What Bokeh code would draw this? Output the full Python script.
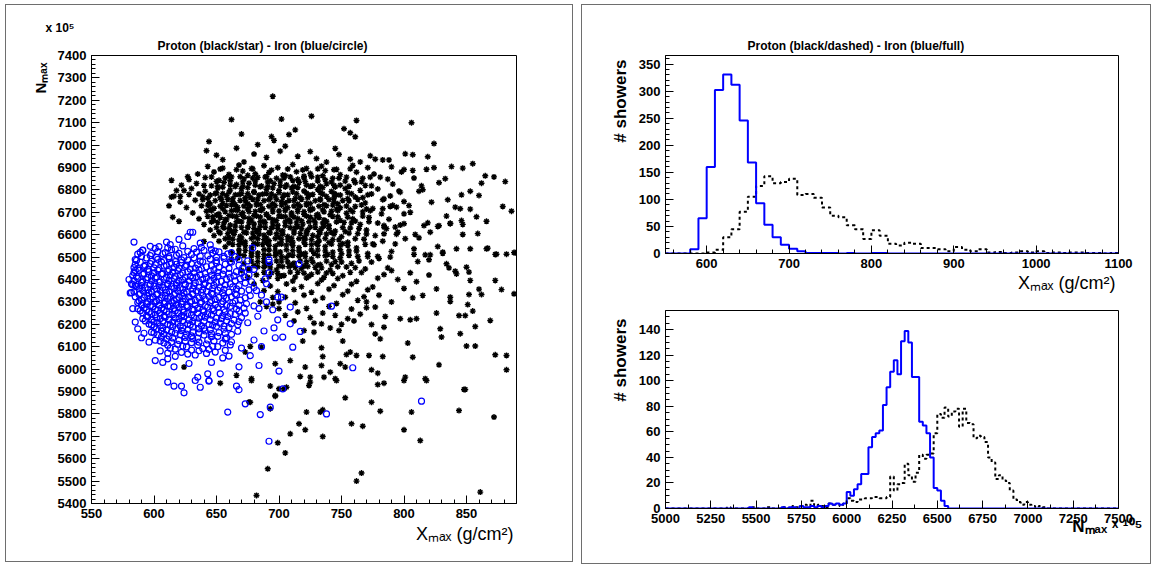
from bokeh.plotting import figure
from bokeh.models import Range1d, FixedTicker, Title
from bokeh.layouts import row, column
from bokeh.embed import file_html
from bokeh.resources import INLINE

# ---------------- data ----------------
# Xmax histogram: 10 g/cm2 bins from 550 to 1100
xmax_bin_lo = list(range(550, 1100, 10))
xmax_last_edge = 1100
iron_xmax_counts = [0, 0, 0, 8, 65, 160, 302, 331, 312, 246,
                    168, 93, 53, 30, 16, 9, 4, 1, 1, 1,
                    1, 0, 1, 0, 0, 1, 1, 0, 0, 0,
                    0, 0, 0, 0, 0, 0, 0, 0, 0, 0,
                    0, 0, 0, 0, 0, 0, 0, 0, 0, 0,
                    0, 0, 0, 0, 0]
proton_xmax_counts = [0, 0, 0, 0, 0, 2, 7, 30, 45, 77,
                      105, 125, 143, 130, 132, 138, 108, 110, 103, 85,
                      70, 67, 52, 45, 27, 43, 33, 18, 15, 20,
                      18, 10, 10, 8, 4, 12, 7, 4, 8, 2,
                      3, 1, 2, 4, 2, 4, 1, 2, 1, 2,
                      2, 1, 1, 0, 1]

# Nmax histogram (x 10^5): bins of 20 from 5000 to 7500
nmax_bin_lo = list(range(5000, 7500, 20))
nmax_last_edge = 7500
iron_nmax_counts = [0, 0, 0, 0, 0, 0, 0, 0, 0, 0,
                    0, 0, 0, 0, 0, 0, 0, 0, 0, 0,
                    0, 0, 0, 1, 0, 0, 0, 0, 0, 0,
                    0, 0, 1, 0, 1, 1, 0, 2, 1, 1,
                    2, 1, 2, 1, 2, 4, 3, 4, 3, 4,
                    13, 10, 15, 19, 27, 27, 48, 56, 59, 61,
                    81, 95, 107, 116, 105, 131, 139, 130, 103, 103,
                    68, 65, 59, 40, 16, 14, 6, 2, 0, 0,
                    0, 0, 0, 0, 0, 0, 0, 0, 0, 0,
                    0, 0, 0, 0, 0, 0, 0, 0, 0, 0,
                    0, 0, 0, 0, 0, 0, 0, 0, 0, 0,
                    0, 0, 0, 0, 0, 0, 0, 0, 0, 0,
                    0, 0, 0, 0, 0]
proton_nmax_counts = [0, 0, 0, 0, 0, 0, 0, 0, 0, 0,
                      0, 0, 0, 0, 0, 0, 0, 1, 0, 0,
                      0, 0, 0, 0, 1, 0, 0, 0, 1, 0,
                      0, 0, 1, 0, 0, 2, 1, 2, 3, 2,
                      6, 2, 3, 2, 1, 4, 3, 3, 2, 4,
                      8, 6, 5, 7, 7, 8, 8, 9, 9, 8,
                      8, 9, 25, 14, 19, 20, 35, 26, 21, 28,
                      42, 39, 42, 43, 59, 74, 71, 79, 72, 76,
                      78, 64, 78, 67, 66, 55, 57, 56, 52, 40,
                      36, 23, 26, 22, 20, 14, 7, 5, 3, 5,
                      3, 2, 1, 2, 1, 0, 0, 0, 0, 0,
                      0, 0, 0, 0, 0, 0, 0, 0, 0, 0,
                      0, 0, 0, 0, 0]

# Scatter: (Xmax [g/cm2], Nmax [x 10^5])
proton_pts = [
    (695,7218),(662,7114),(702,7116),(726,7129),(762,7110),(806,7100),(670,7049),(694,7038),
    (696,7021),(708,7047),(713,7068),(752,7073),(757,7055),(761,7037),(644,7016),(642,6975),
    (666,6986),(705,6995),(701,6973),(725,6971),(824,7007),(801,6961),(807,6957),(819,6948),
    (773,6952),(738,6924),(757,6937),(777,6937),(783,6934),(788,6934),(838,6904),(855,6917),
    (847,6897),(865,6863),(872,6858),(881,6837),(886,6705),(879,6726),(800,6891),(807,6887),
    (818,6892),(824,6899),(833,6850),(828,6832),(846,6778),(853,6794),(860,6775),(862,6830),
    (835,6756),(841,6723),(845,6716),(853,6714),(834,6683),(837,6651),(846,6663),(858,6680),
    (866,6660),(847,6601),(859,6605),(842,6537),(867,6540),(874,6513),(882,6513),(888,6520),
    (827,6547),(831,6517),(821,6510),(828,6640),(816,6641),(821,6611),(809,6601),(812,6586),
    (819,6653),(797,6790),(804,6730),(812,6794),(814,6818),(794,6723),(800,6693),(789,6726),
    (784,6760),(783,6716),(784,6634),(784,6604),(795,6611),(801,6582),(808,6537),(808,6512),
    (779,6503),(789,6500),(793,6559),(775,6559),(614,6843),(614,6768),(612,6729),(615,6678),
    (621,6771),(627,6859),(620,6660),(624,6797),(680,6960),(690,6945),(715,6950),(730,6940),
    (748,6958),(765,6925),(655,6935),(672,6925),(745,6985),(683,7002),(650,6955),
    # dense core
    (643,6905),(655,6897),(668,6911),(679,6894),(688,6908),(699,6899),(711,6913),(722,6896),
    (734,6906),(746,6892),(759,6909),(771,6899),(790,6903),
    (635,6871),(648,6880),(660,6869),(671,6884),(681,6872),(692,6878),(703,6866),(714,6881),
    (725,6873),(737,6886),(749,6868),(762,6879),(776,6871),(798,6880),
    (628,6846),(641,6855),(652,6843),(662,6858),(672,6849),(683,6856),(693,6841),(704,6853),
    (715,6847),(726,6859),(737,6845),(748,6852),(760,6843),(773,6857),(787,6848),(808,6853),
    (622,6821),(634,6829),(646,6818),(656,6833),(666,6824),(676,6830),(686,6817),(696,6828),
    (706,6822),(716,6834),(727,6819),(738,6827),(749,6821),(761,6832),(774,6818),(791,6826),
    (618,6797),(630,6806),(641,6794),(651,6808),(661,6799),(670,6805),(680,6792),(690,6803),
    (700,6797),(710,6809),(720,6795),(731,6802),(742,6793),(753,6806),(765,6798),(779,6804),
    (796,6795),(815,6801),
    (616,6772),(628,6780),(639,6769),(649,6783),(658,6774),(668,6779),(677,6767),(687,6781),
    (697,6772),(707,6778),(717,6766),(727,6780),(738,6771),(749,6777),(761,6768),(774,6782),
    (789,6773),
    (621,6746),(633,6754),(644,6743),(654,6757),(663,6748),(673,6753),(682,6741),(692,6756),
    (702,6747),(712,6752),(722,6740),(733,6755),(744,6746),(756,6751),(769,6742),(783,6756),
    (800,6748),(822,6745),
    (626,6721),(638,6729),(648,6718),(658,6731),(667,6722),(677,6728),(687,6716),(697,6730),
    (707,6721),(717,6727),(727,6715),(738,6729),(749,6720),(761,6726),(775,6717),(791,6731),
    (631,6697),(642,6705),(652,6693),(662,6707),(671,6698),(681,6704),(690,6692),(700,6706),
    (710,6697),(720,6703),(731,6691),(742,6705),(754,6696),(767,6702),(782,6693),(805,6700),
    (636,6671),(647,6680),(657,6668),(666,6682),(676,6673),(685,6679),(695,6667),(705,6681),
    (715,6672),(725,6678),(736,6666),(747,6680),(759,6671),(772,6677),(788,6669),
    (640,6646),(651,6655),(661,6643),(670,6657),(680,6648),(689,6654),(699,6642),(709,6656),
    (719,6647),(729,6653),(740,6641),(752,6655),(765,6646),(779,6652),(797,6643),
    (645,6621),(656,6630),(665,6618),(675,6632),(684,6623),(694,6629),(703,6617),(713,6631),
    (723,6622),(734,6628),(745,6616),(757,6630),(770,6621),(786,6627),
    (648,6596),(659,6605),(669,6593),(679,6607),(688,6598),(698,6604),(707,6592),(717,6606),
    (727,6597),(738,6603),(750,6591),(763,6605),(777,6596),(794,6602),
    (652,6571),(663,6580),(673,6568),(683,6582),(692,6573),(702,6579),(711,6567),(721,6581),
    (732,6572),(743,6578),(755,6566),(768,6580),(783,6571),
    (657,6546),(668,6555),(678,6543),(687,6557),(697,6548),(706,6554),(716,6542),(726,6556),
    (737,6547),(749,6553),(762,6541),(776,6555),
    (662,6521),(673,6530),(683,6518),(692,6532),(701,6523),(711,6529),(721,6517),(731,6531),
    (743,6522),(756,6528),(771,6516),(790,6525),
    (667,6496),(678,6505),(688,6493),(697,6507),(706,6498),(716,6504),(726,6492),(737,6506),
    (749,6497),(763,6503),(780,6494),
    (672,6471),(683,6480),(693,6468),(702,6482),(712,6473),(722,6479),(733,6467),(745,6481),
    (758,6472),(774,6478),
    (676,6446),(688,6455),(698,6443),(708,6457),(718,6448),(729,6454),(741,6442),(754,6456),
    (769,6447),(787,6452),
    (682,6421),(694,6430),(704,6418),(715,6432),(726,6423),(738,6429),(751,6417),(766,6431),
    (784,6422),
    (687,6396),(699,6405),(711,6393),(722,6407),(734,6398),(747,6404),(762,6392),(779,6406),
    (693,6371),(706,6380),(718,6368),(731,6382),(744,6373),(758,6379),(775,6367),
    (699,6346),(712,6355),(726,6343),(740,6357),(755,6348),(771,6354),
    (705,6321),(720,6330),(735,6318),(751,6332),(768,6323),
    (713,6296),(729,6305),(746,6293),(763,6307),(722,6271),(740,6280),(758,6268),
    (655,6812),(665,6815),(675,6810),(685,6814),(695,6809),(705,6813),(715,6811),(725,6816),
    (735,6810),(745,6813),
    (650,6787),(660,6790),(670,6785),(680,6789),(690,6784),(700,6788),(711,6791),(722,6786),
    (733,6789),(744,6785),(755,6788),
    (645,6737),(655,6740),(665,6735),(675,6739),(685,6734),(695,6738),(705,6741),(715,6736),
    (725,6739),(736,6734),(747,6738),
    (650,6688),(660,6685),(670,6690),(680,6686),(690,6689),(700,6684),(710,6688),(720,6691),
    (730,6686),(741,6689),
    (655,6636),(665,6639),(675,6634),(685,6638),(695,6635),(705,6640),(715,6637),(725,6634),
    (736,6639),
    (660,6588),(670,6585),(680,6590),(690,6586),(700,6589),(710,6584),(720,6588),(731,6591),
    (660,6862),(675,6865),(690,6860),(705,6864),(720,6861),(735,6863),
    (650,6838),(661,6841),(671,6836),(681,6840),(691,6835),(701,6839),(711,6842),(721,6837),
    (731,6840),(742,6835),(753,6839),(766,6836),
    (643,6763),(653,6766),(663,6761),(673,6765),(683,6760),(693,6764),(703,6767),(713,6762),
    (723,6765),(733,6760),(744,6764),(755,6761),(767,6765),
    (645,6713),(655,6716),(665,6711),(675,6715),(685,6710),(695,6714),(705,6717),(715,6712),
    (725,6715),(735,6710),(746,6714),(757,6711),(770,6715),
    (648,6663),(658,6666),(668,6661),(678,6665),(688,6660),(698,6664),(708,6667),(718,6662),
    (728,6665),(738,6660),(749,6664),(761,6661),
    (652,6613),(662,6616),(672,6611),(682,6615),(692,6610),(702,6614),(712,6617),(722,6612),
    (732,6615),(742,6610),(753,6614),
    (660,6563),(670,6566),(680,6561),(690,6565),(700,6560),(710,6564),(720,6567),(730,6562),
    (740,6565),(751,6560),
    (668,6513),(678,6516),(688,6511),(698,6515),(708,6510),(718,6514),(728,6517),(739,6512),
    (750,6515),
    (680,6463),(690,6466),(700,6461),(710,6465),(720,6460),(731,6464),(742,6467),
    (692,6413),(702,6416),(713,6411),(724,6415),(736,6410),
    # third, offset layer of the core
    (653,6893),(666,6890),(678,6895),(694,6888),(707,6893),(719,6889),(731,6894),(744,6890),(757,6894),
    (646,6858),(657,6853),(669,6859),(679,6853),(689,6857),(698,6852),(709,6858),(720,6853),
    (731,6857),(743,6852),(754,6857),(767,6852),(781,6857),
    (640,6820),(651,6815),(661,6821),(671,6816),(681,6821),(691,6815),(701,6820),(712,6816),
    (722,6821),(733,6816),(744,6820),(756,6816),(769,6820),
    (636,6782),(645,6777),(655,6783),(665,6778),(675,6783),(684,6777),(694,6782),(704,6778),
    (714,6783),(724,6777),(735,6782),(746,6778),(758,6783),(771,6778),
    (639,6757),(649,6752),(659,6758),(669,6753),(679,6758),(688,6752),(698,6757),(708,6753),
    (718,6758),(729,6752),(740,6757),(751,6753),(763,6758),
    (643,6732),(653,6727),(662,6733),(672,6728),(682,6733),(692,6727),(702,6732),(712,6728),
    (722,6733),(732,6727),(743,6732),(754,6728),(766,6733),
    (646,6707),(657,6702),(667,6708),(676,6703),(686,6708),(695,6702),(705,6707),(715,6703),
    (725,6708),(736,6702),(747,6707),(759,6703),(773,6707),
    (643,6682),(653,6677),(663,6683),(672,6678),(682,6683),(692,6677),(702,6682),(712,6678),
    (722,6683),(732,6677),(743,6682),(755,6678),(767,6683),
    (646,6657),(656,6652),(666,6658),(676,6653),(685,6658),(695,6652),(705,6657),(714,6653),
    (724,6658),(735,6652),(746,6657),(758,6653),(772,6658),
    (650,6632),(660,6627),(670,6633),(680,6628),(689,6633),(699,6627),(709,6632),(718,6628),
    (729,6633),(740,6627),(751,6632),(764,6628),
    (653,6607),(664,6602),(674,6608),(684,6603),(693,6608),(703,6602),(712,6607),(722,6603),
    (733,6608),(744,6602),(756,6607),(770,6603),
    (657,6582),(668,6577),(678,6583),(688,6578),(697,6583),(707,6577),(716,6582),(726,6578),
    (737,6583),(748,6577),(761,6582),
    (663,6557),(673,6552),(683,6558),(692,6553),(702,6558),(711,6552),(721,6557),(731,6553),
    (742,6558),(755,6552),(769,6557),
    (668,6532),(678,6527),(688,6533),(697,6528),(706,6533),(716,6527),(726,6532),(737,6528),
    (749,6533),(762,6527),
    (672,6507),(683,6502),(692,6508),(702,6503),(711,6508),(721,6502),(731,6507),(743,6503),
    (756,6508),(771,6502),
    (678,6482),(688,6477),(698,6483),(707,6478),(717,6483),(727,6477),(738,6482),(750,6478),(764,6483),
    (683,6457),(693,6452),(703,6458),(713,6453),(723,6458),(734,6452),(747,6457),(761,6453),
    (688,6432),(699,6427),(709,6433),(720,6428),(731,6433),(743,6427),(757,6432),
    (640,6570),(662,6490),(670,6440),(675,6410),(680,6380),(688,6350),(695,6320),(685,6300),
    (700,6270),
    (705,6240),(715,6255),(725,6230),(735,6250),(745,6240),(755,6225),(765,6245),(712,6215),
    (728,6205),(750,6200),(760,6215),(695,6290),(770,6300),(780,6330),(790,6300),(800,6360),
    (795,6400),(805,6430),(790,6440),(810,6390),(820,6420),(700,6300),(690,6280),
    # lower / right sparse
    (784,6641),(793,6634),(800,6649),(827,6637),(837,6649),(847,6646),
    (889,6519),(873,6512),(866,6537),(853,6537),(831,6522),(817,6510),(820,6488),(811,6480),
    (834,6470),(836,6452),(841,6437),(842,6425),(850,6455),(852,6433),(853,6396),(873,6396),
    (860,6357),(878,6355),(888,6336),(852,6333),(862,6333),(837,6321),(837,6302),(826,6358),
    (815,6329),(807,6318),(851,6288),(855,6259),(844,6239),(849,6239),(826,6250),(810,6225),
    (805,6220),(797,6225),(869,6217),(829,6180),(830,6143),(845,6158),(850,6103),(857,6103),
    (857,6190),(873,6064),(882,6061),(882,5997),(828,6019),(817,5957),(801,5964),(807,6053),
    (803,6116),(849,5909),(844,5815),(872,5786),
    (772,6061),(774,5997),(779,5982),(774,5852),(781,5812),(784,5937),(779,5931),(783,6056),
    (781,6135),(784,6187),(785,6235),(777,6277),(770,6274),(774,6199),(777,6157),(762,6061),
    (754,6065),(749,6024),(753,6009),(745,5957),(741,5986),(736,5964),(734,6016),(725,5964),
    (717,5967),(735,6056),(757,6076),(751,6125),(748,6172),(741,6184),(734,6202),(734,6095),
    (728,6165),(720,6172),(719,6125),(721,6009),(709,6038),(704,5912),(697,6024),(693,5924),
    (697,5882),(693,5823),(677,5852),(678,5957),(686,6098),(677,6101),(673,6076),(666,5972),
    (653,5937),(624,6009),
    (678,5949),(700,5912),(706,5919),(697,5879),(724,5927),(725,5942),(746,5949),(753,5872),
    (800,5949),(818,5949),(848,5909),(806,5808),(800,5729),(813,5681),(722,5808),(733,5808),
    (735,5818),(716,5756),(721,5729),(735,5699),(758,5756),(767,5745),(709,5711),(699,5671),
    (705,5626),(691,5555),(766,5536),(762,5500),(682,5436),(861,5451),(676,5853),
]

iron_pts = [
    (597,6548),(611,6541),(623,6550),(638,6543),
    (591,6531),(603,6524),(614,6533),(627,6526),(640,6530),(652,6523),
    (587,6513),(597,6507),(607,6515),(618,6508),(630,6512),(643,6506),(659,6514),
    (585,6489),(594,6496),(603,6490),(612,6494),(622,6488),(632,6497),(645,6491),(656,6495),(668,6489),
    (589,6477),(597,6471),(606,6478),(614,6472),(622,6476),(630,6470),(639,6479),(650,6473),(662,6477),
    (584,6453),(592,6459),(600,6452),(608,6460),(616,6454),(625,6458),(633,6451),(642,6457),(652,6455),(671,6452),
    (588,6441),(596,6435),(603,6442),(611,6436),(619,6440),(627,6434),(636,6443),(645,6437),(656,6441),(666,6435),
    (583,6417),(591,6423),(598,6416),(606,6424),(613,6418),(621,6422),(629,6415),(637,6421),(646,6419),(655,6424),(664,6416),(676,6420),
    (587,6405),(594,6399),(601,6406),(608,6400),(616,6404),(623,6398),(631,6407),(639,6401),(648,6405),(658,6399),(669,6403),
    (582,6381),(590,6387),(597,6380),(604,6388),(611,6382),(618,6386),(625,6379),(633,6385),(641,6383),(650,6388),(661,6380),(673,6384),
    (586,6369),(593,6363),(600,6370),(607,6364),(614,6368),(621,6362),(628,6371),(636,6365),(644,6369),(653,6363),(663,6367),(680,6364),
    (584,6345),(591,6351),(598,6344),(605,6352),(612,6346),(619,6350),(626,6343),(634,6349),(642,6347),(651,6352),(660,6344),(670,6348),
    (588,6333),(595,6327),(602,6334),(609,6328),(616,6332),(623,6326),(631,6335),(639,6329),(647,6333),(656,6327),(666,6331),(677,6328),
    (590,6309),(597,6315),(604,6308),(611,6316),(618,6310),(625,6314),(633,6307),(641,6313),(649,6311),(658,6316),(669,6308),
    (587,6297),(594,6291),(601,6298),(608,6292),(615,6296),(622,6290),(629,6299),(637,6293),(645,6297),(654,6291),(663,6295),(674,6292),
    (592,6273),(599,6279),(606,6272),(613,6280),(620,6274),(627,6278),(635,6271),(643,6277),(651,6275),(661,6280),(672,6272),
    (589,6261),(596,6255),(603,6262),(610,6256),(617,6260),(624,6254),(632,6263),(640,6257),(648,6261),(657,6255),(668,6259),
    (594,6237),(601,6243),(608,6236),(615,6244),(622,6238),(630,6242),(638,6235),(646,6241),(655,6239),(665,6244),(683,6236),
    (591,6225),(598,6219),(605,6226),(612,6220),(620,6224),(628,6218),(636,6227),(645,6221),(654,6225),(664,6219),
    (596,6201),(603,6207),(611,6200),(619,6208),(627,6202),(635,6206),(644,6199),(653,6205),(662,6203),(675,6207),
    (600,6189),(607,6183),(615,6190),(623,6184),(631,6188),(640,6182),(650,6191),(660,6185),
    (598,6165),(606,6171),(614,6164),(622,6172),(631,6166),(641,6170),(652,6163),(667,6169),
    (603,6153),(612,6147),(621,6154),(630,6148),(640,6152),(651,6146),(662,6155),
    (601,6129),(610,6135),(620,6128),(631,6136),(643,6130),(657,6134),
    (608,6117),(619,6111),(630,6118),(642,6112),(655,6116),
    (613,6093),(626,6099),(639,6092),(651,6100),(670,6094),
    (605,6081),(622,6075),(636,6082),(649,6076),
    (617,6057),(633,6063),(660,6058),
    # second, interleaved layer of the dense core
    (601,6539),(617,6535),(632,6538),(646,6534),
    (589,6521),(598,6516),(609,6520),(620,6517),(634,6522),(647,6518),(662,6520),
    (590,6503),(602,6499),(612,6502),(624,6498),(637,6504),(650,6500),(665,6502),
    (586,6485),(598,6481),(608,6484),(617,6480),(627,6486),(637,6482),(650,6484),(661,6480),(675,6483),
    (585,6467),(593,6463),(601,6466),(610,6462),(618,6468),(626,6464),(635,6466),(646,6462),(657,6468),(668,6464),
    (587,6449),(595,6445),(604,6448),(612,6444),(620,6450),(629,6446),(638,6448),(648,6444),(660,6450),(676,6446),
    (584,6431),(592,6427),(600,6430),(607,6426),(615,6432),(623,6428),(632,6430),(641,6426),(651,6432),(660,6428),(670,6430),
    (586,6413),(595,6409),(602,6412),(610,6408),(617,6414),(625,6410),(634,6412),(642,6408),(651,6414),(661,6410),(672,6412),
    (584,6395),(591,6391),(598,6394),(605,6390),(612,6396),(620,6392),(628,6394),(636,6390),(645,6396),(654,6392),(665,6394),(678,6390),
    (583,6377),(590,6373),(597,6376),(604,6372),(611,6378),(618,6374),(625,6376),(632,6372),(640,6378),(648,6374),(657,6376),(668,6372),
    (588,6359),(595,6355),(602,6358),(609,6354),(616,6360),(623,6356),(631,6358),(639,6354),(647,6360),(656,6356),(666,6358),(676,6354),
    (582,6341),(589,6337),(596,6340),(603,6336),(610,6342),(617,6338),(624,6340),(631,6336),(638,6342),(646,6338),(655,6340),(665,6336),
    (585,6323),(592,6319),(599,6322),(606,6318),(613,6324),(620,6320),(628,6322),(636,6318),(644,6324),(652,6320),(662,6322),(673,6318),
    (588,6305),(595,6301),(602,6304),(609,6300),(616,6306),(623,6302),(630,6304),(638,6300),(646,6306),(655,6302),(665,6304),
    (590,6287),(597,6283),(604,6286),(611,6282),(618,6288),(626,6284),(633,6286),(641,6282),(649,6288),(658,6284),(668,6286),(680,6282),
    (587,6269),(594,6265),(601,6268),(608,6264),(616,6270),(623,6266),(631,6268),(639,6264),(647,6270),(656,6266),(666,6268),
    (591,6251),(598,6247),(605,6250),(612,6246),(619,6252),(627,6248),(635,6250),(643,6246),(652,6252),(661,6248),(673,6250),
    (595,6233),(602,6229),(609,6232),(617,6228),(624,6234),(632,6230),(641,6232),(650,6228),(659,6234),(670,6230),
    (593,6215),(600,6211),(607,6214),(615,6210),(623,6216),(631,6212),(640,6214),(649,6210),(658,6216),(668,6212),
    (598,6197),(605,6193),(613,6196),(621,6192),(629,6198),(638,6194),(647,6196),(656,6192),(667,6198),
    (602,6179),(610,6175),(618,6178),(627,6174),(636,6180),(645,6176),(656,6178),
    (600,6161),(608,6157),(617,6160),(626,6156),(636,6162),(646,6158),(657,6160),
    (606,6143),(615,6139),(625,6142),(635,6138),(646,6144),(658,6140),
    (605,6125),(614,6121),(625,6124),(636,6120),(648,6126),(662,6122),
    (611,6107),(623,6103),(635,6106),(647,6102),(661,6108),
    (617,6089),(630,6085),(644,6088),(657,6084),
    (611,6071),(627,6067),(642,6070),
    # outskirts
    (584,6567),(581,6340),(585,6373),(591,6530),(601,6038),(611,6046),(611,5942),(616,5924),
    (622,5924),(624,5894),(633,5949),(635,5964),(637,5919),(643,5979),(644,5949),(653,5979),
    (666,5924),(668,5908),(673,5845),(659,5808),(685,5797),(693,5830),(703,5912),(684,6016),
    (700,5991),(711,6098),(717,6168),(709,6202),(703,6143),(697,6140),(696,6184),(699,6220),
    (695,6265),(709,6277),(716,6470),(742,6281),(759,6006),(814,5857),(738,5800),(692,6477),
    (679,6541),(656,6503),(645,6555),(629,6611),(620,6579),(680,6445),(689,6403),(699,6321),
    (702,6321),(690,6381),(604,6547),(610,6567),(613,6556),(627,6592),(631,6611),(637,6562),
    (649,6527),(692,6489),(692,5678),(644,5946),(616,6010),(607,6030),(628,6025),(646,6030),
    (655,6050),(668,6010),(677,6060),(686,6100),(680,6130),(688,6170),(684,6270),(690,6300),
    (686,6330),(682,6350),(692,6430),(587,6180),(592,6160),(596,6120),(590,6140),(585,6210),
    (583,6270),(580,6400),(585,6440),
]

proton_x = [p[0] for p in proton_pts]
proton_y = [p[1] for p in proton_pts]
iron_x = [p[0] for p in iron_pts]
iron_y = [p[1] for p in iron_pts]

FONT = "Liberation Sans"
BLUE = "#0000ff"
PANEL_BORDER = "1px solid #6e6e6e"


def style(p, xt, xm, yt, ym):
    p.xgrid.visible = False
    p.ygrid.visible = False
    p.outline_line_color = "black"
    p.outline_line_width = 1
    p.outline_line_alpha = 1
    p.background_fill_color = "white"
    p.border_fill_color = "white"
    p.xaxis[0].ticker = FixedTicker(ticks=xt, minor_ticks=xm)
    p.yaxis[0].ticker = FixedTicker(ticks=yt, minor_ticks=ym)
    for ax in (p.xaxis[0], p.yaxis[0]):
        ax.major_tick_in = 8
        ax.major_tick_out = 0
        ax.minor_tick_in = 4
        ax.minor_tick_out = 0
        ax.axis_line_color = "black"
        ax.major_tick_line_color = "black"
        ax.minor_tick_line_color = "black"
        ax.major_label_text_font = FONT
        ax.major_label_text_font_style = "bold"
        ax.major_label_text_font_size = "13px"
        ax.major_label_text_color = "black"
        ax.major_label_standoff = 5


def add_title(p, side, text, size, bold, align, offset, standoff):
    p.add_layout(Title(text=text, align=align, offset=offset, standoff=standoff,
                       text_font=FONT, text_font_size=f"{size}px",
                       text_font_style="bold" if bold else "normal",
                       text_color="black"), side)


# ---------------- left: scatter ----------------
p1 = figure(width=568, height=558, output_backend="svg", toolbar_location=None, title=None,
            x_range=Range1d(550, 890), y_range=Range1d(5400, 7400),
            min_border_left=85, min_border_right=58, min_border_top=50, min_border_bottom=60,
            styles={"border": PANEL_BORDER})
style(p1, list(range(550, 851, 50)), list(range(550, 891, 10)),
      list(range(5400, 7401, 100)), list(range(5400, 7401, 20)))
p1.scatter(proton_x, proton_y, marker="asterisk", size=6, line_color="black", line_width=1.4)
p1.scatter(iron_x, iron_y, marker="circle", size=6, fill_color=None, line_color=BLUE, line_width=1.2)

add_title(p1, "above", "Proton (black/star) - Iron (blue/circle)", 12, True, "left", 66, 5)
add_title(p1, "above", "x 10\u2075", 12, True, "left", -46, 0)
add_title(p1, "left", "N\u2098\u2090\u2093", 15, True, "right", 7, 12)
add_title(p1, "below", "X\u2098\u2090\u2093 (g/cm\u00b2)", 18, False, "right", 3, 3)

# ---------------- right top: Xmax histogram ----------------
p2 = figure(width=568, height=290, output_backend="svg", toolbar_location=None, title=None,
            x_range=Range1d(550, 1100), y_range=Range1d(0, 366),
            min_border_left=83, min_border_right=32, min_border_top=50, min_border_bottom=42)
style(p2, list(range(600, 1101, 100)), list(range(560, 1101, 20)),
      list(range(0, 351, 50)), list(range(0, 361, 10)))
xe = xmax_bin_lo + [xmax_last_edge]
p2.step(xe, proton_xmax_counts + [proton_xmax_counts[-1]], mode="after",
        line_color="black", line_width=2, line_dash="3 3")
p2.step(xe, iron_xmax_counts + [iron_xmax_counts[-1]], mode="after",
        line_color=BLUE, line_width=2)
add_title(p2, "above", "Proton (black/dashed) - Iron (blue/full)", 12, True, "left", 82, 5)
add_title(p2, "left", "# showers", 17, True, "right", 4, 11)
add_title(p2, "below", "X\u2098\u2090\u2093 (g/cm\u00b2)", 18, False, "right", 3, 0)

# ---------------- right bottom: Nmax histogram ----------------
p3 = figure(width=568, height=268, output_backend="svg", toolbar_location=None, title=None,
            x_range=Range1d(5000, 7500), y_range=Range1d(0, 155),
            min_border_left=83, min_border_right=32, min_border_top=15, min_border_bottom=55)
style(p3, list(range(5000, 7501, 250)), list(range(5000, 7501, 125)),
      list(range(0, 141, 20)), list(range(0, 151, 5)))
ne = nmax_bin_lo + [nmax_last_edge]
p3.step(ne, proton_nmax_counts + [proton_nmax_counts[-1]], mode="after",
        line_color="black", line_width=2, line_dash="3 3")
p3.step(ne, iron_nmax_counts + [iron_nmax_counts[-1]], mode="after",
        line_color=BLUE, line_width=2)
add_title(p3, "left", "# showers", 17, True, "right", 8, 11)
add_title(p3, "below", "N\u2098\u2090\u2093 \u02e3 \u00b9\u2070\u2075", 17, True, "right", -24, -21)

right = column(p2, p3, spacing=0, styles={"border": PANEL_BORDER})
layout = row(p1, right, spacing=8, styles={"margin-left": "5px", "margin-top": "4px"})

open("out.html", "w").write(file_html(layout, INLINE))
